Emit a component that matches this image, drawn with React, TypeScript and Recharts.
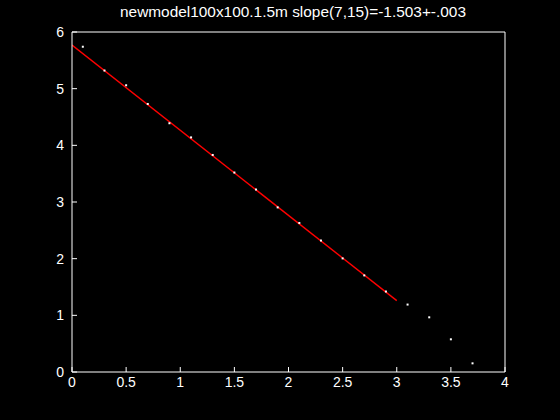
import React from "react";
import { ComposedChart, Line, Scatter, XAxis, YAxis } from "recharts";

const TITLE = "newmodel100x100.1.5m slope(7,15)=-1.503+-.003";
const X_TICKS = [0, 0.5, 1, 1.5, 2, 2.5, 3, 3.5, 4];
const Y_TICKS = [0, 1, 2, 3, 4, 5, 6];

const pointX = [0.1, 0.3, 0.5, 0.7, 0.9, 1.1, 1.3, 1.5, 1.7, 1.9, 2.1, 2.3, 2.5, 2.7, 2.9, 3.1, 3.3, 3.5, 3.7];
const pointY = [5.74, 5.32, 5.06, 4.73, 4.39, 4.14, 3.83, 3.52, 3.22, 2.905, 2.63, 2.32, 2.005, 1.705, 1.42, 1.19, 0.965, 0.577, 0.153];

const fitX = [0, 3];
const fitY = [5.77, 1.26];

const points = pointX.map((x, i) => ({ x, y: pointY[i] }));
const fit = fitX.map((x, i) => ({ x, y: fitY[i] }));

const FONT = "'Liberation Sans', Arial, sans-serif";

const Dot = (props: any) => {
  const { cx, cy } = props;
  if (cx == null || cy == null) return null;
  return <rect x={cx - 1} y={cy - 1} width={2} height={2} fill="#ffffff" />;
};

const NoShape = () => null;

export default function App() {
  const tickStyle = { fill: "#ffffff", fontSize: 14, fontFamily: FONT };
  return (
    <div style={{ position: "absolute", left: 0, top: 0, width: 560, height: 420, background: "#000000" }}>
      <ComposedChart
        width={560}
        height={420}
        margin={{ top: 31, right: 54, bottom: 18, left: 32 }}
        style={{ position: "absolute", left: 0, top: 0 }}
      >
        <XAxis
          xAxisId="b"
          type="number"
          dataKey="x"
          domain={[0, 4]}
          ticks={X_TICKS}
          allowDataOverflow
          height={30}
          stroke="#ffffff"
          tickSize={-5}
          tickMargin={10}
          tick={tickStyle}
          tickLine={{ stroke: "#ffffff" }}
        />
        <XAxis
          xAxisId="t"
          orientation="top"
          type="number"
          dataKey="x"
          domain={[0, 4]}
          ticks={X_TICKS}
          allowDataOverflow
          height={1}
          tick={false}
          tickSize={-5}
          stroke="#ffffff"
          tickLine={{ stroke: "#ffffff" }}
        />
        <YAxis
          yAxisId="l"
          type="number"
          dataKey="y"
          domain={[0, 6]}
          ticks={Y_TICKS}
          allowDataOverflow
          width={40}
          stroke="#ffffff"
          tickSize={-5}
          tickMargin={13}
          tick={tickStyle}
          tickLine={{ stroke: "#ffffff" }}
        />
        <YAxis
          yAxisId="r"
          orientation="right"
          type="number"
          dataKey="y"
          domain={[0, 6]}
          ticks={Y_TICKS}
          allowDataOverflow
          width={1}
          tick={false}
          tickSize={-5}
          stroke="#ffffff"
          tickLine={{ stroke: "#ffffff" }}
        />
        <Line
          xAxisId="b"
          yAxisId="l"
          data={fit}
          dataKey="y"
          type="linear"
          stroke="#ff0000"
          strokeWidth={1.4}
          dot={false}
          activeDot={false}
          isAnimationActive={false}
        />
        <Scatter
          xAxisId="t"
          yAxisId="r"
          data={points}
          dataKey="y"
          shape={NoShape}
          isAnimationActive={false}
        />
        <Scatter
          xAxisId="b"
          yAxisId="l"
          data={points}
          dataKey="y"
          fill="#ffffff"
          shape={Dot}
          isAnimationActive={false}
        />
      </ComposedChart>
      <svg width={560} height={30} style={{ position: "absolute", left: 0, top: 0 }}>
        <text
          x={293}
          y={17}
          textAnchor="middle"
          fill="#ffffff"
          fontSize={15}
          fontFamily={FONT}
          textLength={346}
          lengthAdjust="spacingAndGlyphs"
        >
          {TITLE}
        </text>
      </svg>
    </div>
  );
}
